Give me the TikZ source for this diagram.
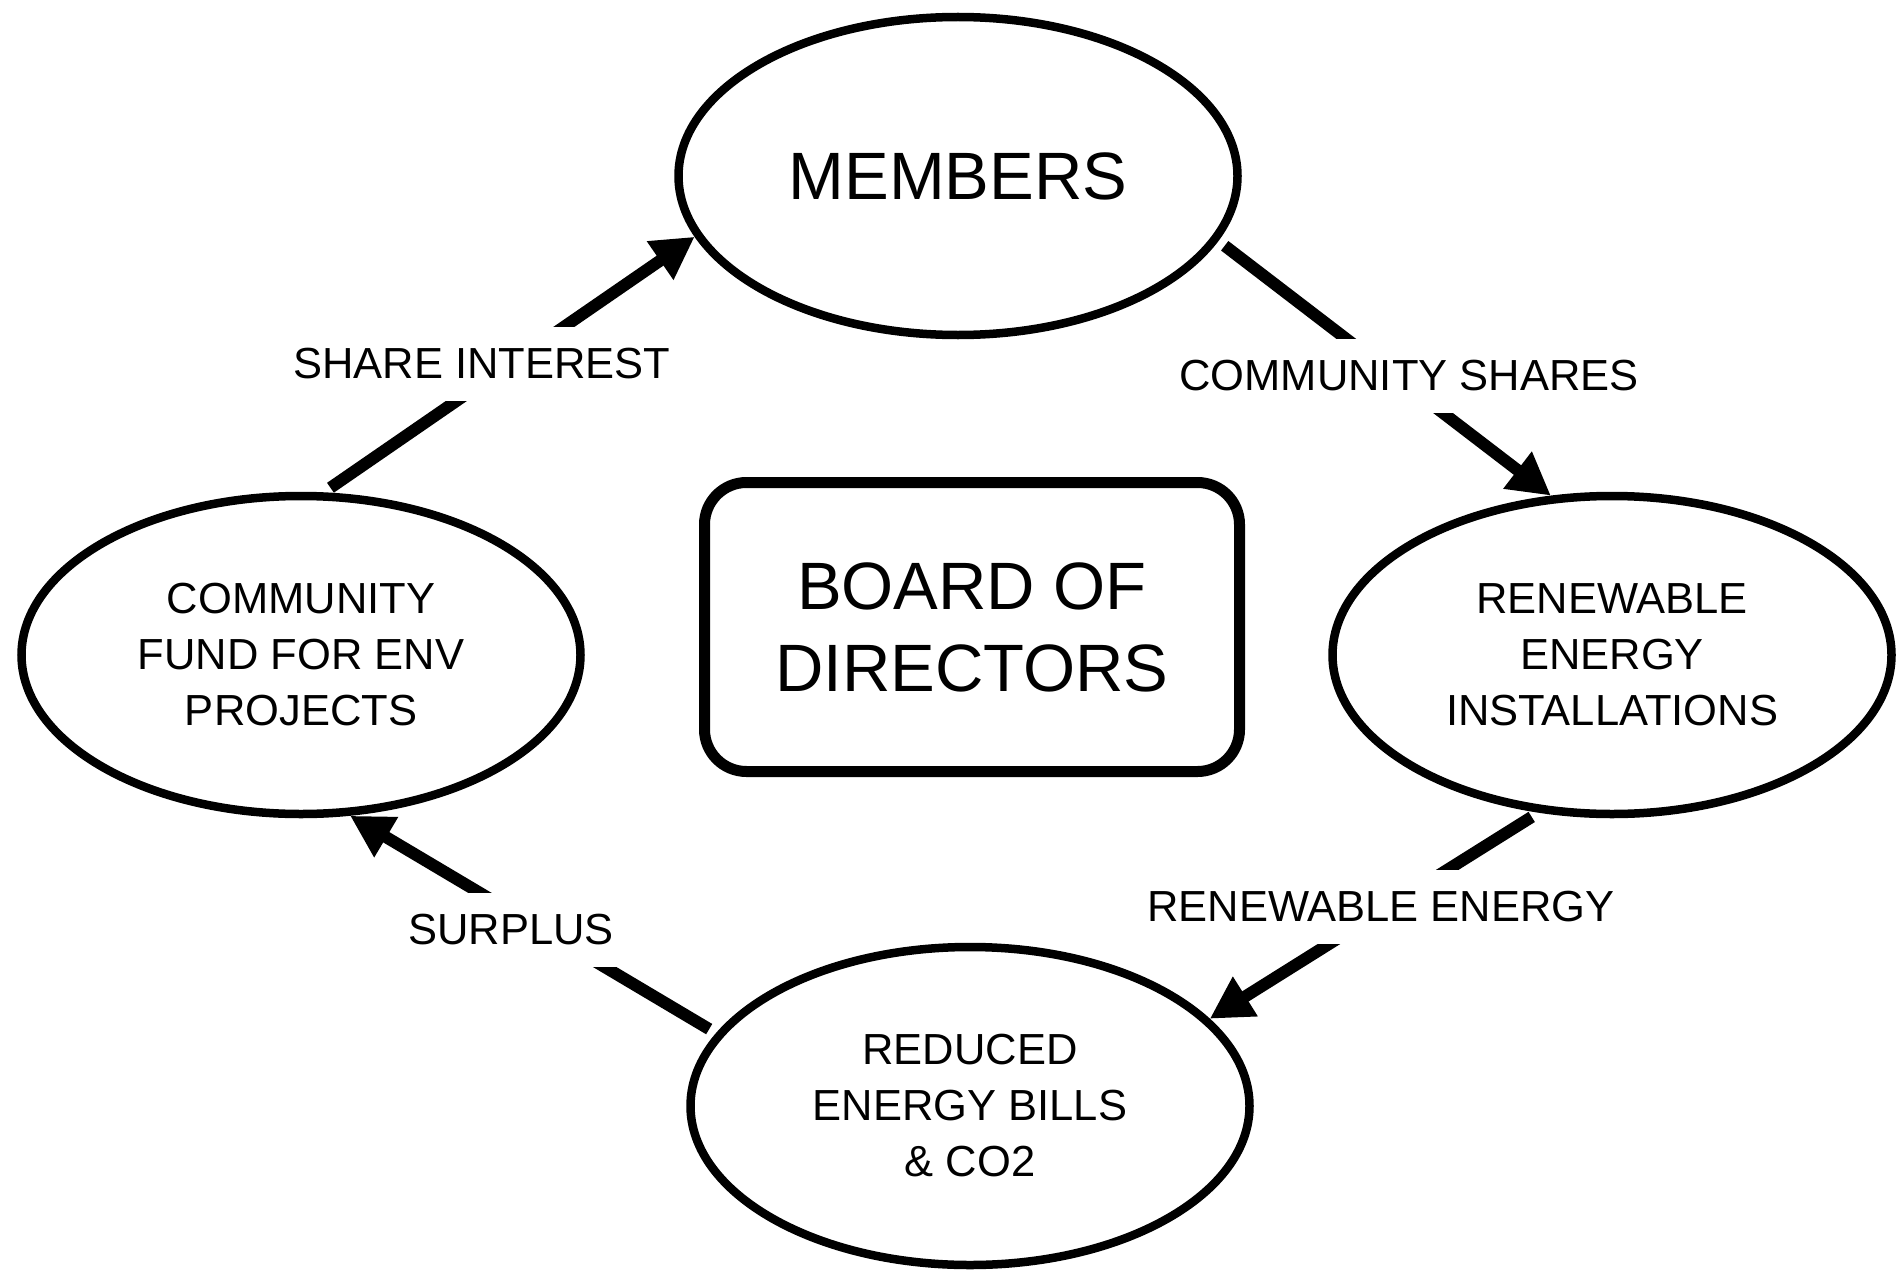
\documentclass[tikz,border=0pt]{standalone}
\usepackage{fontspec}
\setmainfont{Liberation Sans}
\usetikzlibrary{shapes.geometric,arrows.meta}
\begin{document}
\begin{tikzpicture}[x=1pt,y=-1pt,
  ell/.style={draw, ellipse, line width=8.5pt, inner sep=0pt, align=center,
    minimum width=559pt, minimum height=318pt, font=\fontsize{43.5}{56}\selectfont},
  big/.style={font=\fontsize{67}{82}\selectfont},
  arr/.style={line width=12pt, -{Triangle[length=42pt,width=44pt]}, shorten <=8pt},
  lbl/.style={fill=white, inner xsep=6pt, inner ysep=22pt, font=\fontsize{43.5}{56}\selectfont}]
\fill[white] (0,0) rectangle (1901,1279);
\useasboundingbox (0,0) rectangle (1901,1279);
\node[ell, big] (mem) at (958,176) {MEMBERS};
\node[ell] (ren) at (1612,655) {RENEWABLE\\ENERGY\\INSTALLATIONS};
\node[ell] (fund) at (301,655) {COMMUNITY\\FUND FOR ENV\\PROJECTS};
\node[ell] (red) at (970,1106) {REDUCED\\ENERGY BILLS\\\& CO2};
\node[draw, line width=11pt, rounded corners=42pt, minimum width=535pt,
  minimum height=289pt, big, align=center] (board) at (972,627) {BOARD OF\\DIRECTORS};
\draw[arr] (mem.-14) -- (ren.111);
\draw[arr] (ren.-115) -- (red.20);
\draw[arr] (red.164) -- (fund.-73);
\draw[arr] (fund.82) -- (mem.193);
\node[lbl] (l1) at (1409,376) {COMMUNITY SHARES};
\node[lbl] (l2) at (1381,907) {RENEWABLE ENERGY};
\node[lbl] (l3) at (511,930) {SURPLUS};
\node[lbl] (l4) at (482,364) {SHARE INTEREST};
\end{tikzpicture}
\end{document}
